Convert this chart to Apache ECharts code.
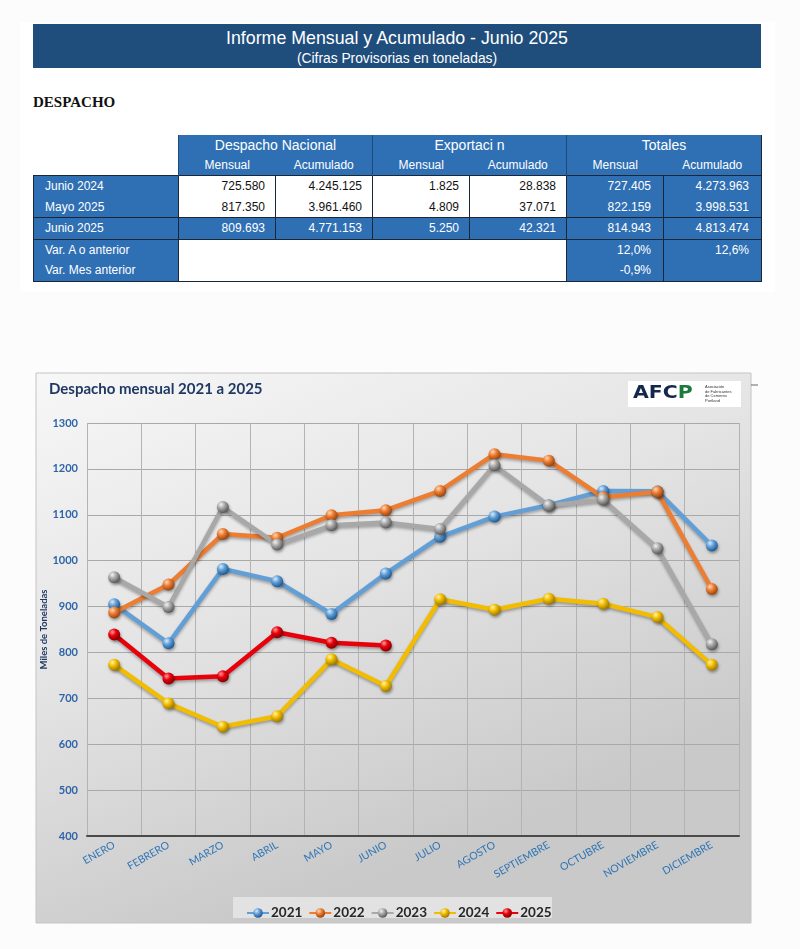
<!DOCTYPE html>
<html>
<head>
<meta charset="utf-8">
<script src="https://cdn.jsdelivr.net/npm/echarts@6/dist/echarts.min.js"></script>
<style>
  body { margin:0; background:#fcfcfc; width:800px; height:949px; overflow:hidden; font-family:"Liberation Sans", Arial, sans-serif; }
  #sheet { position:absolute; left:20px; top:22px; width:755px; height:270px; background:#fff; }
  #banner { position:absolute; left:33px; top:24px; width:728px; height:44px; background:#1f4e7d; color:#fff; text-align:center; }
  #banner .t1 { font-size:17.8px; line-height:24px; padding-top:2px; }
  #banner .t2 { font-size:13.8px; line-height:17px; }
  #despacho { position:absolute; left:33px; top:94px; font-family:"Liberation Serif", "Times New Roman", serif; font-weight:bold; font-size:15px; color:#111; }
  #tbl { position:absolute; left:33px; top:135px; border-collapse:collapse; table-layout:fixed; font-size:12px; }
  #tbl td { padding:0; height:20px; white-space:nowrap; }
  #tbl .blue { background:#2f70b5; color:#fff; }
  #tbl .white { background:#fff; color:#111; }
  #tbl .num { text-align:right; padding-right:10px; }
  #tbl .lab { padding-left:11px; }
  #tbl .hd { text-align:center; }
  #chart { position:absolute; left:0; top:340px; width:800px; height:609px; }
</style>
</head>
<body>
<div id="sheet"></div>
<div id="banner"><div class="t1">Informe Mensual y Acumulado - Junio 2025</div><div class="t2">(Cifras Provisorias en toneladas)</div></div>
<div id="despacho">DESPACHO</div>
<table id="tbl"></table>
<div id="chart"></div>
<script>
// ---- tabla de despacho ----
var grupos = ['Despacho Nacional', 'Exportaci n', 'Totales'];
var subCols = ['Mensual', 'Acumulado'];
var filas = ['Junio 2024', 'Mayo 2025', 'Junio 2025'];
var nacMensual = ['725.580', '817.350', '809.693'];
var nacAcum = ['4.245.125', '3.961.460', '4.771.153'];
var expMensual = ['1.825', '4.809', '5.250'];
var expAcum = ['28.838', '37.071', '42.321'];
var totMensual = ['727.405', '822.159', '814.943'];
var totAcum = ['4.273.963', '3.998.531', '4.813.474'];
var varLabels = ['Var. A o anterior', 'Var. Mes anterior'];
var varMensual = ['12,0%', '-0,9%'];
var varAcum = ['12,6%', ''];

// ---- gráfico ----
var meses = ['ENERO','FEBRERO','MARZO','ABRIL','MAYO','JUNIO','JULIO','AGOSTO','SEPTIEMBRE','OCTUBRE','NOVIEMBRE','DICIEMBRE'];
var anios = ['2021','2022','2023','2024','2025'];
var d2021 = [905, 820, 982, 955, 884, 972, 1052, 1096, 1121, 1152, 1151, 1033];
var d2022 = [887, 948, 1058, 1050, 1099, 1110, 1152, 1232, 1218, 1138, 1150, 938];
var d2023 = [964, 899, 1117, 1035, 1077, 1083, 1069, 1208, 1120, 1133, 1027, 818];
var d2024 = [773, 689, 638, 661, 785, 727, 916, 893, 917, 906, 877, 773];
var d2025 = [839, 743, 748, 844, 821, 815];
var yTicks = [400, 500, 600, 700, 800, 900, 1000, 1100, 1200, 1300];

(function buildTable(){
  var B = '1px solid #1b2636';
  var widths = [145, 97, 97, 97, 97, 97, 98];
  var h = '<colgroup>' + widths.map(function(w){ return '<col style="width:' + w + 'px">'; }).join('') + '</colgroup>';
  // encabezado 1
  h += '<tr><td class="white"></td>';
  grupos.forEach(function(g, i){
    h += '<td colspan="2" class="blue hd" style="font-size:14px;height:20px;border-left:1px solid #1d4a7a;' + (i == 2 ? 'border-right:' + B : '') + '">' + g + '</td>';
  });
  h += '</tr><tr><td class="white"></td>';
  for (var g = 0; g < 3; g++) {
    subCols.forEach(function(s, j){
      h += '<td class="blue hd" style="' + (j == 0 ? 'border-left:1px solid #1d4a7a;' : '') + (g == 2 && j == 1 ? 'border-right:' + B : '') + '">' + s + '</td>';
    });
  }
  h += '</tr>';
  for (var r = 0; r < 3; r++) {
    var cls = r == 2 ? 'blue' : 'white';
    var st = 'border-left:' + B + ';border-right:' + B + ';';
    if (r == 0) st += 'border-top:' + B + ';';
    if (r >= 1) st += 'border-bottom:' + B + ';';
    if (r == 2) st += 'border-top:' + B + ';';
    var hh = r == 0 ? 21 : (r == 2 ? 22 : 20);
    h += '<tr style="height:' + hh + 'px">';
    h += '<td class="blue lab" style="' + st + '">' + filas[r] + '</td>';
    [nacMensual, nacAcum, expMensual, expAcum].forEach(function(a){
      h += '<td class="' + cls + ' num" style="' + st + '">' + a[r] + '</td>';
    });
    [totMensual, totAcum].forEach(function(a){
      h += '<td class="blue num" style="' + st + 'padding-right:12px">' + a[r] + '</td>';
    });
    h += '</tr>';
  }
  for (var v = 0; v < 2; v++) {
    var sv = 'border-left:' + B + ';border-right:' + B + ';' + (v == 1 ? 'border-bottom:' + B + ';' : '');
    h += '<tr style="height:21px"><td class="blue lab" style="' + sv + '">' + varLabels[v] + '</td>';
    if (v == 0) h += '<td colspan="4" rowspan="2" class="white" style="border-bottom:' + B + '"></td>';
    h += '<td class="blue num" style="' + sv + 'padding-right:12px">' + varMensual[v] + '</td>';
    h += '<td class="blue num" style="' + sv + 'padding-right:12px">' + varAcum[v] + '</td></tr>';
  }
  document.getElementById('tbl').innerHTML = h;
})();

var myChart = echarts.init(document.getElementById('chart'));

function bola(base, light, dark) {
  return new echarts.graphic.RadialGradient(0.35, 0.3, 0.7, [
    {offset: 0, color: light},
    {offset: 0.45, color: base},
    {offset: 1, color: dark}
  ]);
}

var colores = [
  {base:'#629fd6', light:'#d6ecff', dark:'#1f5a94'},
  {base:'#ed7d31', light:'#ffd9b8', dark:'#9a4512'},
  {base:'#a8a8a8', light:'#f2f2f2', dark:'#5a5a5a'},
  {base:'#f2bd00', light:'#fff4a8', dark:'#a07a00'},
  {base:'#e8000b', light:'#ff9a9a', dark:'#8a0000'}
];
var datos = [d2021, d2022, d2023, d2024, d2025];

var series = [];
for (var i = 0; i < anios.length; i++) {
  var c = colores[i];
  series.push({
    name: anios[i],
    type: 'line',
    data: datos[i],
    symbol: 'circle',
    symbolSize: 12,
    color: c.base,
    lineStyle: {
      width: 4.5,
      color: c.base,
      shadowColor: 'rgba(0,0,0,0.3)',
      shadowBlur: 3,
      shadowOffsetY: 2
    },
    itemStyle: {
      color: bola(c.base, c.light, c.dark),
      shadowColor: 'rgba(0,0,0,0.35)',
      shadowBlur: 3,
      shadowOffsetX: 1,
      shadowOffsetY: 2
    },
    emphasis: { disabled: true }
  });
}

var option = {
  animation: false,
  textStyle: { fontFamily: 'Lato' },
  graphic: [
    {
      type: 'rect', silent: true, z: -10,
      shape: { x: 36, y: 33, width: 715, height: 550 },
      style: {
        fill: new echarts.graphic.LinearGradient(0, 0, 0.3, 1, [
          {offset: 0, color: '#f7f7f7'},
          {offset: 0.5, color: '#e4e4e4'},
          {offset: 1, color: '#c9c9c9'}
        ]),
        stroke: '#c4c4c4', lineWidth: 1
      }
    },
    {
      type: 'text', left: 49, top: 42,
      style: { text: 'Despacho mensual 2021 a 2025', fontFamily: 'Lato', fontWeight: 'bold', fontSize: 15, fill: '#1f3864' }
    },
    {
      type: 'rect', silent: true,
      shape: { x: 628, y: 41, width: 113, height: 26 },
      style: { fill: '#ffffff' }
    },
    {
      type: 'text', x: 633, y: 45, scaleX: 1.2,
      style: {
        text: '{a|AFC}{p|P}',
        rich: {
          a: { fontFamily: 'DejaVu Sans', fontWeight: 'bold', fontSize: 17, fill: '#14284b' },
          p: { fontFamily: 'DejaVu Sans', fontWeight: 'bold', fontSize: 17, fill: '#1b7a3c' }
        }
      }
    },
    {
      type: 'text', left: 705, top: 45,
      style: { text: 'Asociación\nde Fabricantes\nde Cemento\nPortland', fontSize: 4, lineHeight: 4.5, fill: '#333', fontFamily: 'Liberation Sans' }
    },
    {
      type: 'line', silent: true,
      shape: { x1: 751, y1: 45, x2: 758, y2: 45 },
      style: { stroke: '#666', lineWidth: 1 }
    },
    {
      type: 'rect', silent: true, z: -5,
      shape: { x: 233, y: 557, width: 319, height: 21 },
      style: { fill: '#e2e2e2' }
    }
  ],
  grid: { left: 87, right: 61, top: 83, bottom: 113 },
  legend: {
    data: anios,
    left: 241,
    top: 561,
    itemWidth: 22,
    itemHeight: 12,
    itemGap: 6,
    textStyle: { fontFamily: 'Lato', fontWeight: 'bold', fontSize: 13.5, color: '#262626', padding: [0, 0, 0, -3] }
  },
  xAxis: {
    type: 'category',
    data: meses,
    boundaryGap: true,
    axisLine: { lineStyle: { color: '#4a4a4a', width: 2 } },
    axisTick: { show: false },
    axisLabel: { rotate: 30, margin: 8, color: '#2e75b6', fontFamily: 'Lato', fontSize: 10.5, interval: 0 },
    splitLine: { show: true, lineStyle: { color: '#b3b3b3', width: 1 } }
  },
  yAxis: {
    type: 'value',
    min: yTicks[0],
    max: yTicks[yTicks.length - 1],
    interval: 100,
    name: 'Miles de Toneladas',
    nameLocation: 'middle',
    nameGap: 38,
    nameMoveOverlap: false,
    nameRotate: 90,
    nameTextStyle: { fontFamily: 'Lato', fontWeight: 'bold', fontSize: 9.5, color: '#1f3864' },
    axisLine: { show: false },
    axisTick: { show: false },
    axisLabel: {
      color: '#2e64a8', fontFamily: 'Lato', fontWeight: 'bold', fontSize: 11, margin: 9,
      formatter: function (v) { return String(v); }
    },
    splitLine: { lineStyle: { color: '#a9a9a9', width: 1.2 } }
  },
  series: series
};
myChart.setOption(option);
</script>
</body>
</html>
